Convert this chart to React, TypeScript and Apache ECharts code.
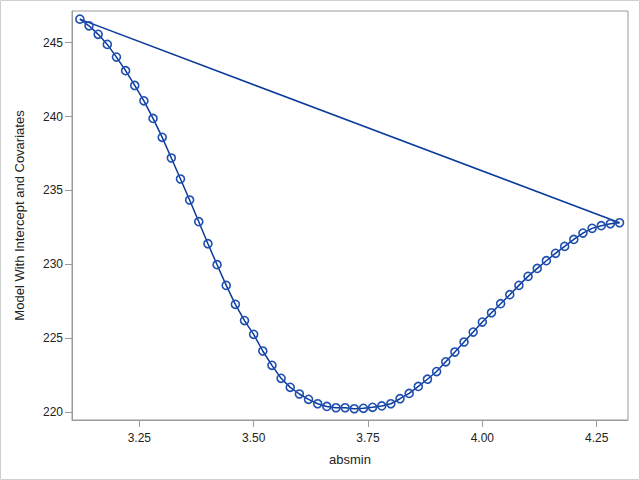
import React, { useEffect, useRef } from "react";
import * as echarts from "echarts";

const absmin = [
  3.12, 3.14, 3.16, 3.18, 3.2, 3.22, 3.24, 3.26, 3.28, 3.3,
  3.32, 3.34, 3.36, 3.38, 3.4, 3.42, 3.44, 3.46, 3.48, 3.5,
  3.52, 3.54, 3.56, 3.58, 3.6, 3.62, 3.64, 3.66, 3.68, 3.7,
  3.72, 3.74, 3.76, 3.78, 3.8, 3.82, 3.84, 3.86, 3.88, 3.9,
  3.92, 3.94, 3.96, 3.98, 4.0, 4.02, 4.04, 4.06, 4.08, 4.1,
  4.12, 4.14, 4.16, 4.18, 4.2, 4.22, 4.24, 4.26, 4.28, 4.3,
];

const model = [
  246.59, 246.14, 245.56, 244.88, 244.02, 243.1, 242.1, 241.06, 239.87, 238.59,
  237.19, 235.77, 234.35, 232.88, 231.39, 229.97, 228.57, 227.29, 226.19, 225.26,
  224.13, 223.16, 222.28, 221.67, 221.22, 220.86, 220.56, 220.38, 220.29, 220.29,
  220.22, 220.25, 220.32, 220.41, 220.56, 220.9, 221.26, 221.73, 222.22, 222.74,
  223.4, 224.06, 224.74, 225.41, 226.09, 226.72, 227.33, 227.94, 228.57, 229.18,
  229.72, 230.24, 230.74, 231.21, 231.68, 232.11, 232.43, 232.61, 232.74, 232.81,
];

const xTicks = [3.25, 3.5, 3.75, 4.0, 4.25];
const yTicks = [220, 225, 230, 235, 240, 245];

export default function App() {
  const ref = useRef<HTMLDivElement>(null);
  useEffect(() => {
    document.body.style.margin = "0";
    const chart = echarts.init(ref.current!, null, { renderer: "svg" });
    const pts = absmin.map((x, i) => [x, model[i]]);
    const closing = [pts[pts.length - 1], pts[0]];
    const axisColor = "#9a9a9a";
    const font = "'Liberation Sans', Arial, sans-serif";
    chart.setOption({
      animation: false,
      backgroundColor: "#ffffff",
      graphic: [
        {
          type: "rect",
          shape: { x: 0.5, y: 0.5, width: 639, height: 479 },
          style: { fill: "none", stroke: "#cfcfcf", lineWidth: 1 },
          silent: true,
        },
      ],
      grid: {
        left: 72,
        top: 11,
        right: 12,
        bottom: 60,
        show: true,
        borderColor: axisColor,
        borderWidth: 1,
        containLabel: false,
      },
      xAxis: {
        type: "value",
        min: 3.1028,
        max: 4.3185,
        name: "absmin",
        nameLocation: "middle",
        nameGap: 33,
        nameTextStyle: { fontFamily: font, fontSize: 13, color: "#222" },
        splitLine: { show: false },
        axisLine: { show: true, lineStyle: { color: axisColor } },
        axisTick: { show: true, length: 7, lineStyle: { color: axisColor }, customValues: xTicks },
        axisLabel: {
          customValues: xTicks,
          margin: 12,
          fontFamily: font,
          fontSize: 12,
          color: "#222",
          formatter: (v: number) => v.toFixed(2),
        },
      },
      yAxis: {
        type: "value",
        min: 219.46,
        max: 247.14,
        name: "Model With Intercept and Covariates",
        nameLocation: "middle",
        nameGap: 46,
        nameTextStyle: { fontFamily: font, fontSize: 13, color: "#222" },
        splitLine: { show: false },
        axisLine: { show: true, lineStyle: { color: axisColor } },
        axisTick: { show: true, length: 7, lineStyle: { color: axisColor }, customValues: yTicks },
        axisLabel: {
          customValues: yTicks,
          margin: 9,
          fontFamily: font,
          fontSize: 12,
          color: "#222",
          formatter: (v: number) => String(v),
        },
      },
      series: [
        {
          type: "line",
          data: closing,
          showSymbol: false,
          symbol: "none",
          lineStyle: { color: "#0a3a9a", width: 1.5 },
          silent: true,
          z: 2,
        },
        {
          type: "line",
          data: pts,
          symbol: "circle",
          symbolSize: 8,
          showAllSymbol: true,
          lineStyle: { color: "#0a3a9a", width: 1.5 },
          itemStyle: { color: "rgba(0,0,0,0)", borderColor: "#1f4fb0", borderWidth: 1.6 },
          z: 3,
        },
      ],
    });
    return () => chart.dispose();
  }, []);
  return <div ref={ref} style={{ width: 640, height: 480 }} />;
}
